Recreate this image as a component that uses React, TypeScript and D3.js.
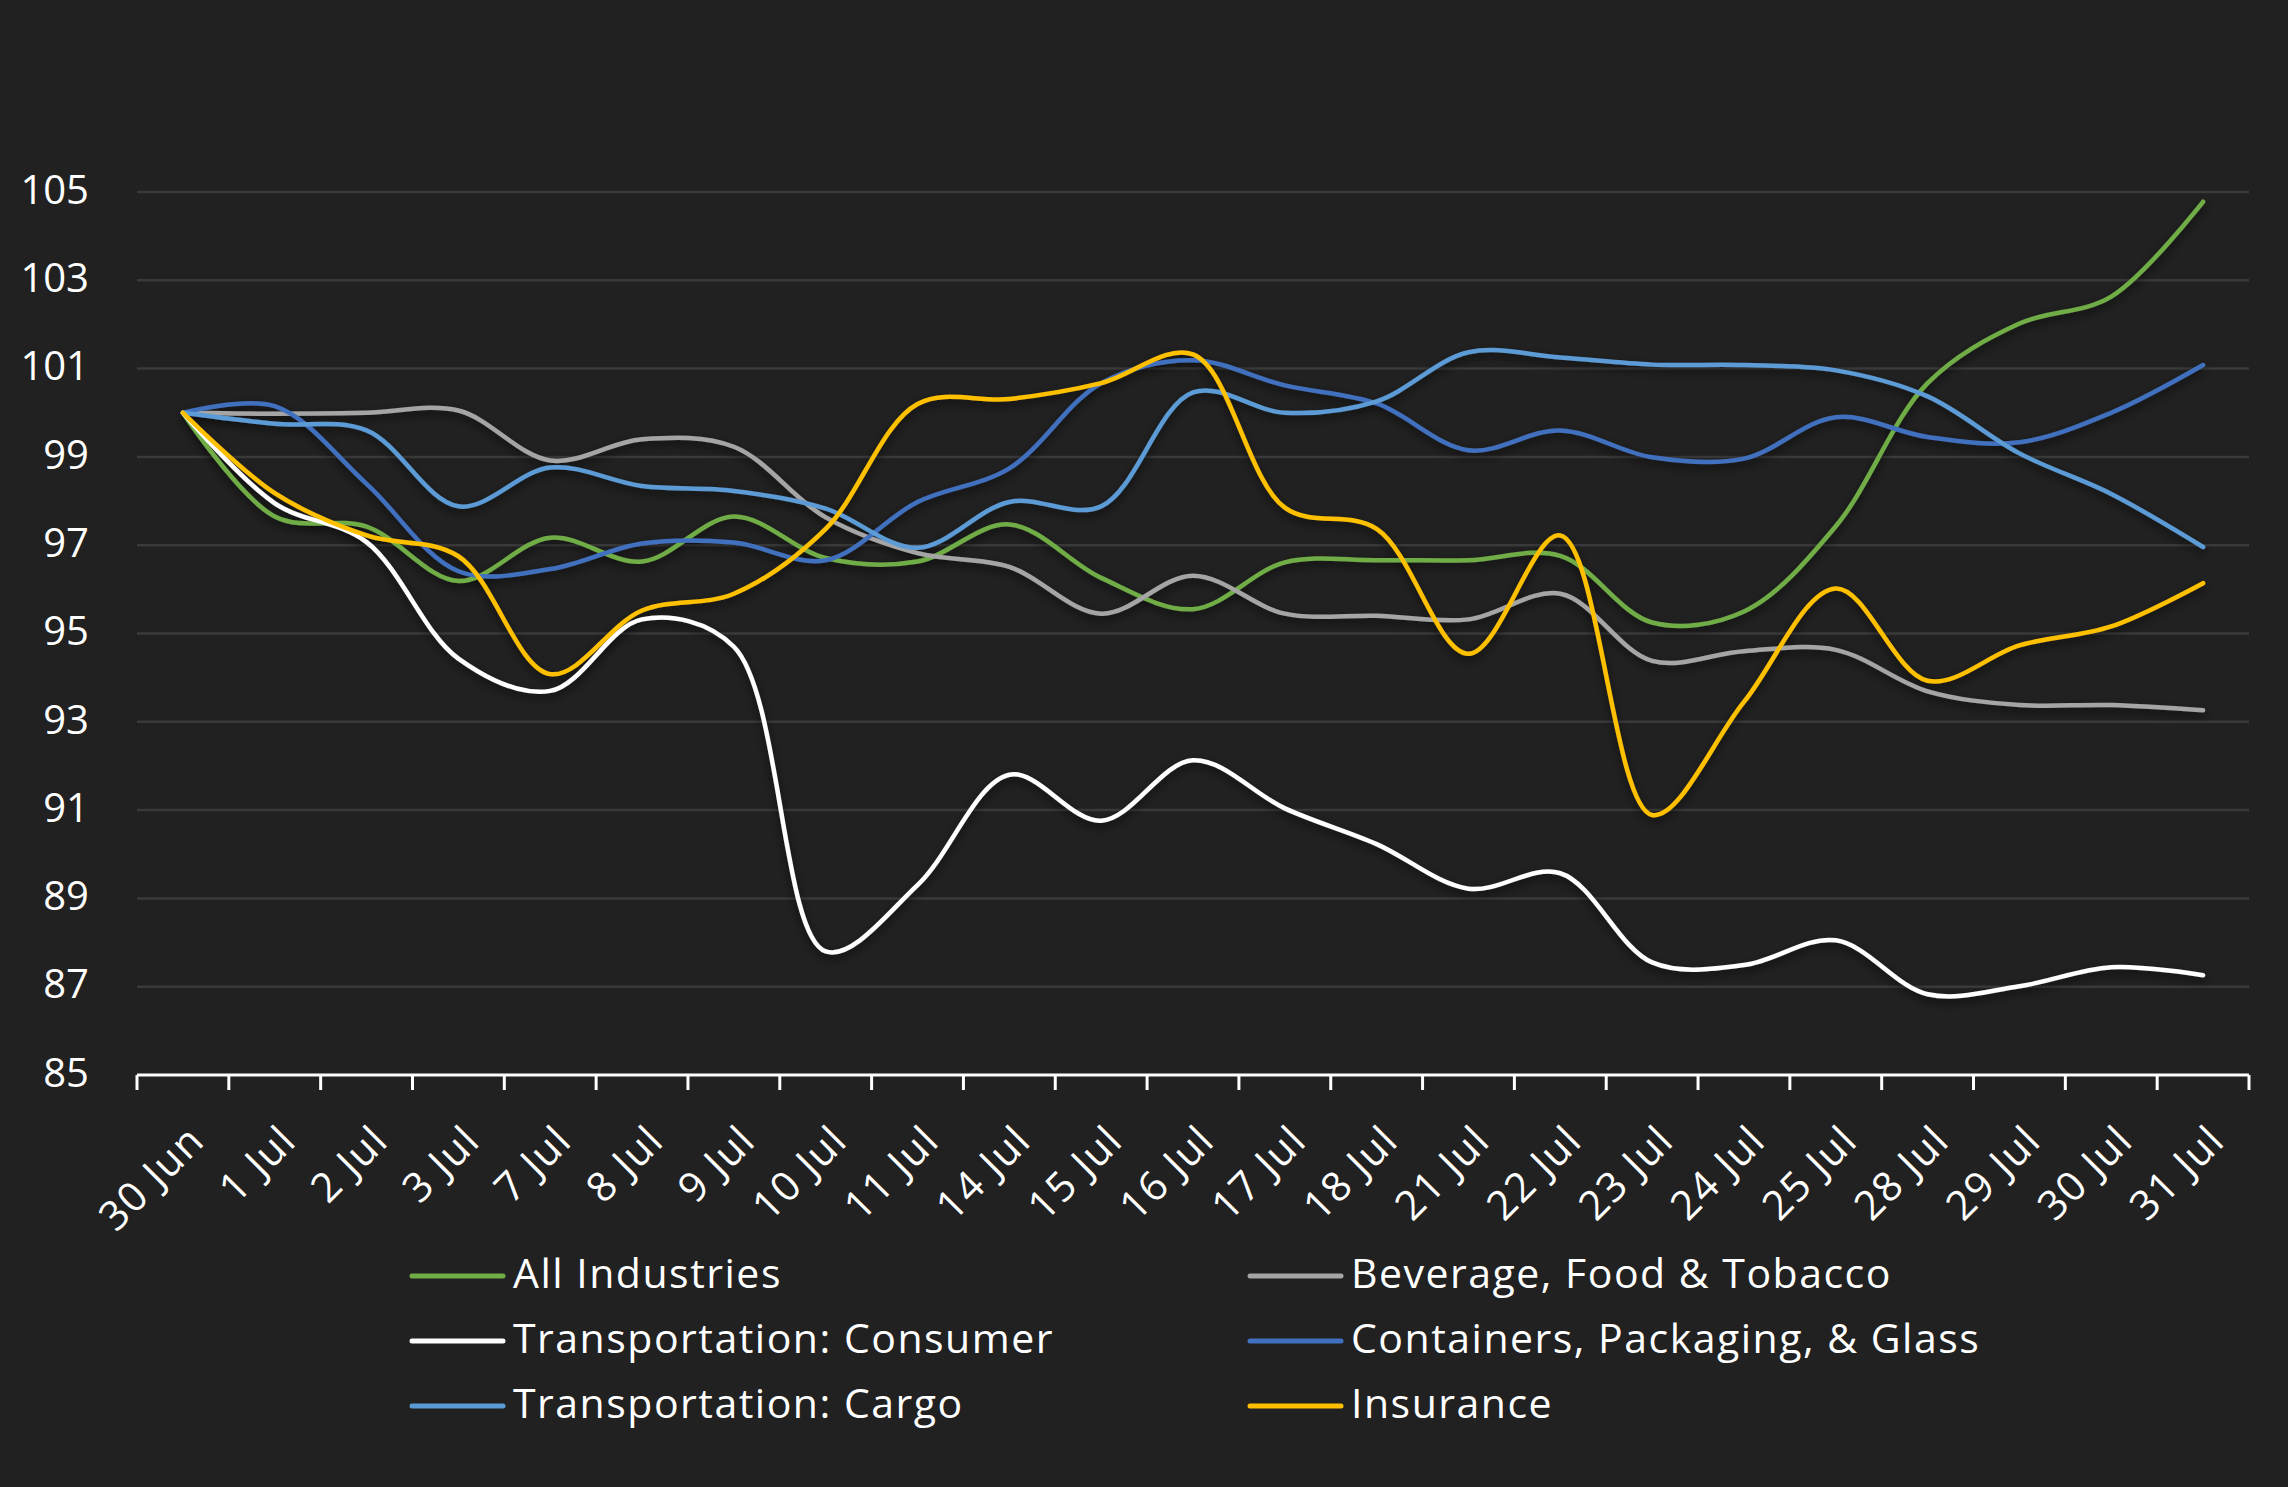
import * as React from "react";
import * as d3 from "d3";

const categories = [
  "30 Jun", "1 Jul", "2 Jul", "3 Jul", "7 Jul", "8 Jul", "9 Jul", "10 Jul",
  "11 Jul", "14 Jul", "15 Jul", "16 Jul", "17 Jul", "18 Jul", "21 Jul", "22 Jul",
  "23 Jul", "24 Jul", "25 Jul", "28 Jul", "29 Jul", "30 Jul", "31 Jul",
];

const allIndustries = [100, 97.65, 97.42, 96.19, 97.17, 96.63, 97.65, 96.71, 96.63, 97.47, 96.26, 95.55,
  96.61, 96.66, 96.66, 96.76, 95.25, 95.5, 97.43, 100.67, 102.02, 102.63, 104.78];
const beverageFood = [100, 99.98, 100.0, 100.05, 98.92, 99.4, 99.23, 97.63, 96.82, 96.51, 95.45, 96.31,
  95.45, 95.4, 95.32, 95.9, 94.38, 94.6, 94.63, 93.69, 93.38, 93.38, 93.26];
const transConsumer = [100, 97.95, 97.07, 94.43, 93.7, 95.32, 94.7, 87.8, 89.3, 91.8, 90.76, 92.13,
  91.04, 90.23, 89.22, 89.57, 87.55, 87.49, 88.05, 86.83, 87.01, 87.44, 87.26];
const containers = [100, 100.15, 98.39, 96.41, 96.46, 97.04, 97.06, 96.66, 97.98, 98.74, 100.67, 101.19,
  100.62, 100.21, 99.15, 99.6, 98.99, 98.96, 99.9, 99.45, 99.33, 100.0, 101.08];
const transCargo = [100, 99.75, 99.6, 97.88, 98.76, 98.34, 98.23, 97.83, 96.94, 97.98, 97.88, 100.46,
  100.0, 100.26, 101.37, 101.25, 101.09, 101.08, 100.96, 100.37, 99.08, 98.16, 96.96];
const insurance = [100, 98.18, 97.22, 96.75, 94.08, 95.52, 95.9, 97.37, 100.2, 100.31, 100.67, 101.32,
  97.85, 97.37, 94.54, 97.22, 90.89, 93.45, 96.02, 93.93, 94.73, 95.16, 96.14];

const yTicks = [85, 87, 89, 91, 93, 95, 97, 99, 101, 103, 105];

const seriesNames = [
  "All Industries", "Beverage, Food & Tobacco", "Transportation: Consumer",
  "Containers, Packaging, & Glass", "Transportation: Cargo", "Insurance",
];
const seriesValues = [allIndustries, beverageFood, transConsumer, containers, transCargo, insurance];
const seriesColors = ["#70AD47", "#A5A5A5", "#FFFFFF", "#4070BE", "#5B9BD5", "#FFC000"];

const W = 2288;
const H = 1487;
const FONT = "'Open Sans', sans-serif";

export default function App() {
  const ref = React.useRef<SVGSVGElement>(null);

  React.useEffect(() => {
    const svg = d3.select(ref.current);
    svg.selectAll("*").remove();

    const margin = { top: 192, left: 137, right: 39, bottom: 412 };
    const innerW = W - margin.left - margin.right;
    const innerH = H - margin.top - margin.bottom;

    svg.append("rect").attr("width", W).attr("height", H).attr("fill", "#212121");

    const defs = svg.append("defs");
    defs.append("filter")
      .attr("id", "shadow")
      .attr("x", "-10%").attr("y", "-10%").attr("width", "120%").attr("height", "120%")
      .append("feDropShadow")
      .attr("dx", 0).attr("dy", 4).attr("stdDeviation", 5)
      .attr("flood-color", "#000").attr("flood-opacity", 0.65);

    const g = svg.append("g").attr("transform", `translate(${margin.left},${margin.top})`);

    const x = d3.scaleBand().domain(categories).range([0, innerW]);
    const y = d3.scaleLinear().domain([85, 105]).range([innerH, 0]);

    // gridlines
    g.append("g")
      .selectAll("line")
      .data(yTicks.filter((t) => t !== 85))
      .join("line")
      .attr("x1", 0).attr("x2", innerW)
      .attr("y1", (d) => y(d)).attr("y2", (d) => y(d))
      .attr("stroke", "#3a3a3a").attr("stroke-width", 2.5);

    // y labels
    g.append("g")
      .selectAll("text")
      .data(yTicks)
      .join("text")
      .attr("x", -48)
      .attr("y", (d) => y(d) + 1)
      .attr("text-anchor", "end")
      .attr("dominant-baseline", "middle")
      .attr("fill", "#ffffff")
      .attr("font-family", FONT)
      .attr("font-size", 40)
      .text((d) => d);

    // x axis
    const xAxis = g.append("g").attr("transform", `translate(0,${innerH})`);
    xAxis.append("line").attr("x1", 0).attr("x2", innerW)
      .attr("stroke", "#fff").attr("stroke-width", 3);
    const bounds = categories.map((c) => x(c) as number).concat([innerW]);
    xAxis.selectAll("line.tick")
      .data(bounds)
      .join("line")
      .attr("class", "tick")
      .attr("x1", (d) => d).attr("x2", (d) => d)
      .attr("y1", 0).attr("y2", 15)
      .attr("stroke", "#fff").attr("stroke-width", 3);
    xAxis.selectAll("text")
      .data(categories)
      .join("text")
      .attr("transform", (d) => `translate(${(x(d) as number) + x.bandwidth() / 2 + 16},${60}) rotate(-45)`)
      .attr("text-anchor", "end")
      .attr("dominant-baseline", "middle")
      .attr("fill", "#fff")
      .attr("font-family", FONT)
      .attr("font-size", 41)
      .attr("letter-spacing", 1.5)
      .text((d) => d);

    // lines
    const line = d3.line<number>()
      .x((_, i) => (x(categories[i]) as number) + x.bandwidth() / 2)
      .y((d) => y(d))
      .curve(d3.curveCatmullRom.alpha(0.5));

    g.append("g")
      .attr("filter", "url(#shadow)")
      .selectAll("path")
      .data(seriesValues)
      .join("path")
      .attr("d", (d) => line(d))
      .attr("fill", "none")
      .attr("stroke", (_, i) => seriesColors[i])
      .attr("stroke-width", 4.5)
      .attr("stroke-linecap", "round")
      .attr("stroke-linejoin", "round");

    // legend
    const colX = [412, 1250];
    const rowY = [1276, 1341, 1406];
    const legend = svg.append("g");
    seriesNames.forEach((name, i) => {
      const cx = colX[i % 2];
      const cy = rowY[Math.floor(i / 2)];
      legend.append("line")
        .attr("x1", cx).attr("x2", cx + 91)
        .attr("y1", cy).attr("y2", cy)
        .attr("stroke", seriesColors[i]).attr("stroke-width", 5)
        .attr("stroke-linecap", "round");
      legend.append("text")
        .attr("x", cx + 101)
        .attr("y", cy + 1)
        .attr("dominant-baseline", "middle")
        .attr("fill", "#fff")
        .attr("font-family", FONT)
        .attr("font-size", 41)
        .attr("letter-spacing", 1.5)
        .text(name);
    });
  }, []);

  return (
    <>
      <style>{`body{margin:0;background:#212121}`}</style>
      <svg ref={ref} width={W} height={H} style={{ display: "block" }} />
    </>
  );
}
